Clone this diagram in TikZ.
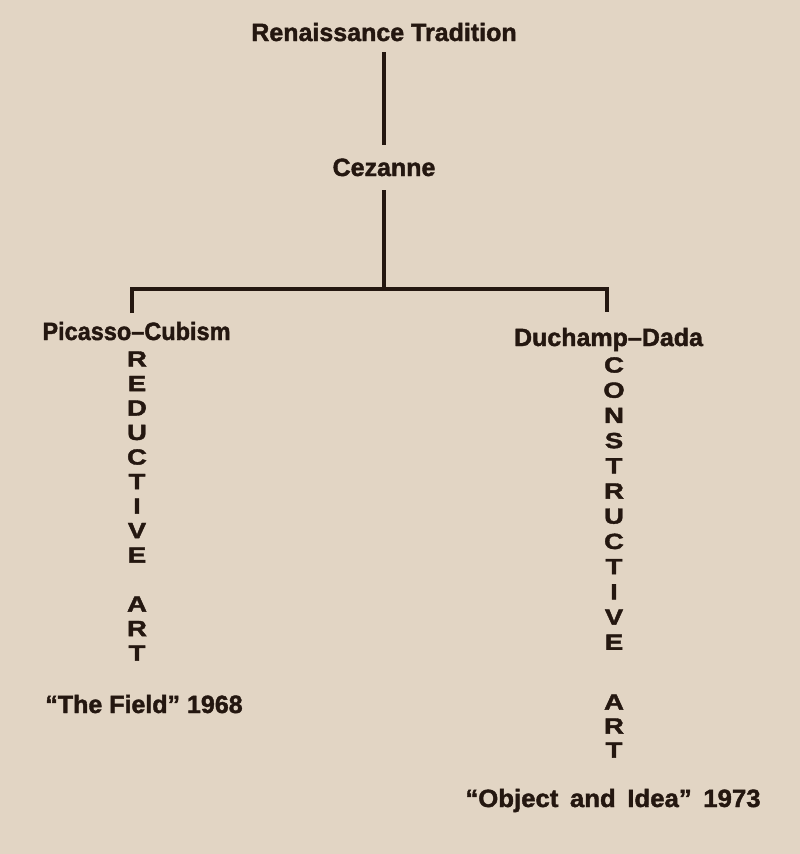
\documentclass[tikz,border=0pt]{standalone}
\usepackage{fontspec}
\setmainfont{Liberation Sans}
\newfontfamily\heavy[FakeBold=1.6]{Liberation Sans Bold}
\definecolor{paper}{HTML}{E2D5C4}
\definecolor{ink}{HTML}{241710}
\newcommand{\wideletter}[1]{\scalebox{1.25}[1]{#1}}
\begin{document}
\begin{tikzpicture}[x=1pt,y=-1pt,
  lbl/.style={font=\fontsize{25}{30}\selectfont\heavy, text=ink, inner sep=0pt, anchor=base},
  vl/.style={font=\fontsize{22}{24}\selectfont\heavy, text=ink, inner sep=0pt},
  link/.style={draw=ink, line width=3.3pt}]
\fill[paper] (0,0) rectangle (800,854);
\useasboundingbox (0,0) rectangle (800,854);

\node[lbl] (ren) at (384,41) {Renaissance Tradition};
\node[lbl] (cez) at (384,176) {Cezanne};
\node[lbl] (pic) at (136.5,340) {\scalebox{0.94}[1]{Picasso–Cubism}};
\node[lbl] (duc) at (608.5,346) {\scalebox{1.0}[1]{Duchamp–Dada}};
\node[lbl] (fld) at (144,713) {“The Field” 1968};
\node[lbl] (obj) at (613,807) {\scalebox{1.03}[1]{“Object\hspace{0.45em}and\hspace{0.45em}Idea”\hspace{0.45em}1973}};

\coordinate (j) at (384.5,289);
\coordinate (jl) at (132,289);
\coordinate (jr) at (607,289);
\coordinate (dl) at (132,313);
\coordinate (dr) at (607,312);

\draw[link, shorten <=11pt, shorten >=13pt] (ren.south) -- (cez.north);
\draw[link, shorten <=14pt] (cez.south) -- (cez.south |- j);
\draw[link] (dl) -- (jl) -- (jr) -- (dr);

\foreach \c [count=\k from 0] in {R,E,D,U,C,T,I,V,E}
  \node[vl] (r\k) at (137,{359+24.5*\k}) {\wideletter{\c}};
\node[vl] (ra) at (137,604) {\wideletter{A}};
\node[vl] (rr) at (137,628.5) {\wideletter{R}};
\node[vl] (rt) at (137,653) {\wideletter{T}};

\foreach \c [count=\k from 0] in {C,O,N,S,T,R,U,C,T,I,V,E}
  \node[vl] (c\k) at (614,{365+25.2*\k}) {\wideletter{\c}};
\node[vl] (ca) at (614,702) {\wideletter{A}};
\node[vl] (cr) at (614,726) {\wideletter{R}};
\node[vl] (ct) at (614,750) {\wideletter{T}};
\end{tikzpicture}
\end{document}
